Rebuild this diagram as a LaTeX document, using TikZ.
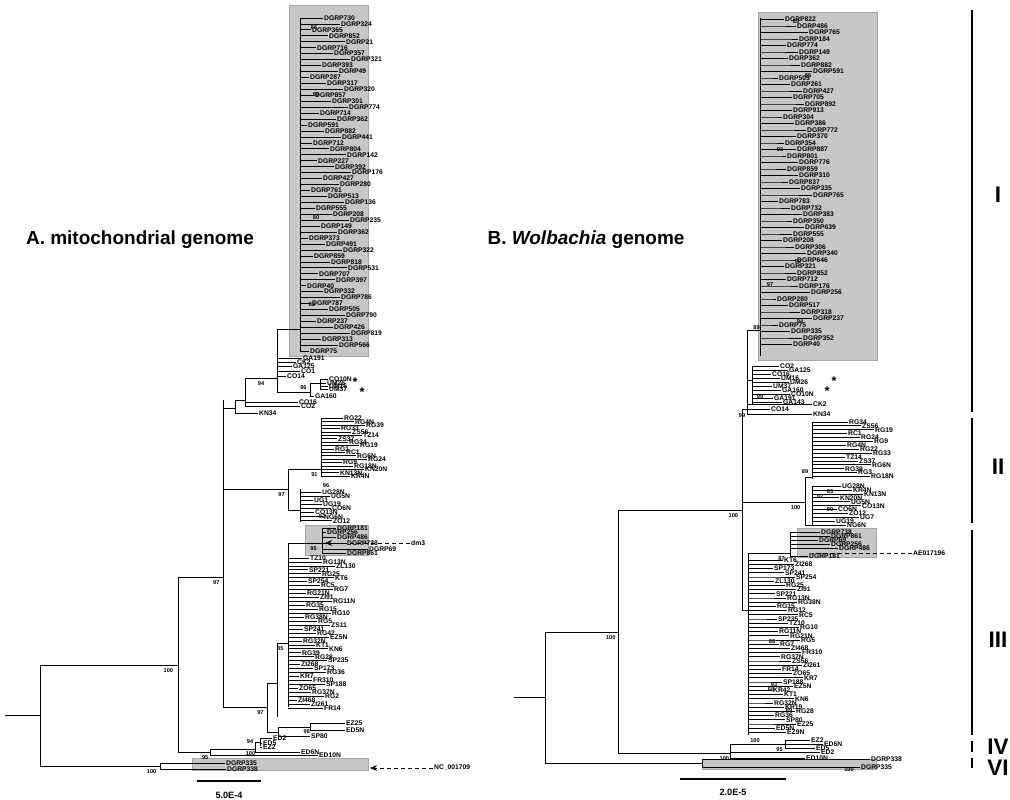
\documentclass[tikz,border=0pt]{standalone}
\usepackage{fontspec}
\setmainfont{Liberation Sans}
\usetikzlibrary{arrows.meta}
\tikzset{br/.style={line width=0.5pt},
	leaf/.style={right,inner sep=0.6pt,font=\fontsize{4.8}{5}\selectfont\bfseries},
	boot/.style={inner sep=0pt,font=\fontsize{4}{4.5}\selectfont\bfseries},
	box/.style={fill=black!22,draw=black!35,line width=0.3pt},
	title/.style={font=\fontsize{13.5}{15}\selectfont\bfseries},
	clade/.style={font=\fontsize{16}{18}\selectfont\bfseries},
	ptr/.style={densely dashed,line width=0.4pt,-{Stealth[length=5pt,width=4pt]}}
}
\begin{document}
\begin{tikzpicture}[x=0.025cm,y=-0.025cm]
	\useasboundingbox (0,0) rectangle (1010,800);
	% shaded groups
	\fill[box] (289,5) rectangle (368,356);
	\fill[box] (305,525) rectangle (368,555);
	\fill[box] (192,758) rectangle (368,770);
	\fill[box] (758,12) rectangle (877,360);
	\fill[box] (797,528) rectangle (876,557);
	\fill[box] (702,759) rectangle (876,769);
	
	% titles
	\node[title] (titleA) at (140,240) {A. mitochondrial genome};
	\node[title] (titleB) at (586,240) {B. \textit{Wolbachia} genome};
	
	%%%%%%%%%%%%%%%% tree A %%%%%%%%%%%%%%%%
	\coordinate (aroot) at (40,715);
	\draw[br] (5,715) -- (aroot);
	\draw[br] (40,665) -- (40,766);
	\draw[br] (40,665) -- (178,665) node[boot,pos=0.93,below=2pt]{100};
	\draw[br] (40,766) -- (160,766) node[boot,pos=0.93,below=2pt]{100};
	\draw[br] (160,763) -- (160,769);
	\draw[br] (160,763) -- (225,763) node[leaf]{DGRP335};
	\draw[br] (160,769) -- (226,769) node[leaf]{DGRP338};
	\node[leaf] (nc) at (433,768) {NC\_001709};
	\draw[ptr] (nc.west) -- (370,768);
	% ED group
	\draw[br] (178,752) -- (210,752) node[boot,pos=0.85,below=2pt]{95};
	\draw[br] (210,749) -- (210,755);
	\draw[br] (210,749) -- (255,749) node[boot,pos=0.9,below=1.5pt]{100};
	\draw[br] (255,742) -- (255,752);
	\draw[br] (255,742) -- (260,742) node[boot,pos=0,left=1pt]{94};
	\draw[br] (260,738) -- (260,746);
	\foreach \yy/\xe/\lab in {738/272/ED2,743/262/ED5,747/262/EZ2}
		\draw[br] (260,\yy) -- (\xe,\yy) node[leaf]{\lab};
	\draw[br] (255,752) -- (300,752) node[leaf]{ED6N};
	\draw[br] (210,755) -- (318,755) node[leaf]{ED10N};
	% backbone
	\draw[br] (178,577) -- (178,752);
	\draw[br] (178,577) -- (223,577) node[boot,pos=0.85,below=2pt]{97};
	\draw[br] (223,400) -- (223,707);
	% clade III
	\draw[br] (223,707) -- (267,707) node[boot,pos=0.85,below=2pt]{97};
	\draw[br] (267,683) -- (267,732);
	\draw[br] (267,683) -- (277,683);
	\draw[br] (277,643) -- (277,717);
	\draw[br] (277,643) -- (288,643) node[boot,pos=0.3,below=2pt]{85};
	\draw[br] (288,543) -- (288,707);
	\foreach \lab [count=\i] in {TZ10,RG13N,ZL130,SP221,RG25,KT6,SP254,RC5,RG7,RG21N,ZI91,RG11N,RG35,RG15,RG10,RG38N,RG5,ZS11,SP241,RG42,EZ5N,RG32N,KT1,KN6,RG39,RG28,SP235,ZI268,SP173,RG36,KR7,FR310,SP188,ZO65,RG37N,RG2,ZI468,ZI261,FR14}
	{\pgfmathsetmacro\yy{554+\i*3.95}
	 \pgfmathsetmacro\xe{296+mod(\i*13,40)}
	 \draw[br] (288,\yy) -- (\xe,\yy) node[leaf]{\lab};}
	\draw[br] (267,732) -- (278,732);
	\draw[br] (278,727) -- (278,736);
	\draw[br] (278,727) -- (310,727) node[boot,pos=0.9,below=1.5pt]{98};
	\draw[br] (310,723) -- (310,730);
	\draw[br] (310,723) -- (345,723) node[leaf]{EZ25};
	\draw[br] (310,730) -- (345,730) node[leaf]{ED5N};
	\draw[br] (278,736) -- (310,736) node[leaf]{SP80};
	% dm3 group
	\draw[br] (288,543) -- (322,543) node[boot,pos=0.75,below=2pt]{95};
	\draw[br] (322,528) -- (322,553);
	\foreach \yy/\xe/\lab in {528/336/DGRP181,532/326/DGRP256,537/336/DGRP486,543/346/DGRP738,549/368/DGRP69,553/346/DGRP861}
		\draw[br] (322,\yy) -- (\xe,\yy) node[leaf]{\lab};
	\node[leaf] (dm3) at (410,543) {dm3};
	\draw[ptr] (dm3.west) -- (325,543);
	% clade II
	\draw[br] (223,489) -- (288,489) node[boot,pos=0.9,below=2pt]{97};
	\draw[br] (288,469) -- (288,510);
	\draw[br] (288,469) -- (321,469) node[boot,pos=0.8,below=2pt]{91};
	\draw[br] (321,419) -- (321,476);
	\foreach \lab [count=\i] in {RG22,RG4N,RG39,RG33,ZS56,TZ14,ZS37,RG34,RG19,RG1,RC1,RG6N,RG24,RG9,RG18N,KN20N,KN13N,KR4N}
	{\pgfmathsetmacro\yy{415+\i*3.4}
	 \pgfmathsetmacro\xe{332+mod(\i*11,36)}
	 \draw[br] (321,\yy) -- (\xe,\yy) node[leaf]{\lab};}
	\draw[br] (288,510) -- (300,510);
	\draw[br] (300,489) -- (300,522);
	\foreach \lab [count=\i] in {UG28N,UG5N,UG1,UG19,CO6N,CO13N,NG6N,ZO12}
	{\pgfmathsetmacro\yy{488+\i*4.1}
	 \pgfmathsetmacro\xe{312+mod(\i*9,26)}
	 \draw[br] (300,\yy) -- (\xe,\yy) node[leaf]{\lab};}
	\node[boot] at (322,517) {92};
	\node[boot] at (326,486) {96};
	% clade I and its neighbours
	\draw[br] (223,408) -- (235,408);
	\draw[br] (235,400) -- (235,413);
	\draw[br] (235,413) -- (258,413) node[leaf]{KN34};
	\draw[br] (235,400) -- (245,400);
	\draw[br] (245,378) -- (245,406);
	\draw[br] (245,402) -- (298,402) node[leaf]{CO16};
	\draw[br] (245,406) -- (300,406) node[leaf]{CO2};
	\draw[br] (245,378) -- (277,378) node[boot,pos=0.5,below=2pt]{94};
	\draw[br] (277,329) -- (277,392);
	\foreach \yy/\xe/\lab in {358/302/GA191,362/296/CK2,366/292/GA125,371/300/CO1,376/286/CO14}
		\draw[br] (277,\yy) -- (\xe,\yy) node[leaf]{\lab};
	\draw[br] (277,392) -- (310,392) node[boot,pos=0.8,above=1.5pt]{96};
	\draw[br] (310,383) -- (310,396);
	\draw[br] (310,383) -- (320,383);
	\draw[br] (320,379) -- (320,389);
	\foreach \yy/\xe/\lab in {379/328/CO10N,383/326/UM26,386/328/UM16,389/328/UM37}
		\draw[br] (320,\yy) -- (\xe,\yy) node[leaf]{\lab};
	\draw[br] (310,396) -- (314,396) node[leaf]{GA160};
	\draw[br] (300,399) -- (300,399);
	\node[font=\small\bfseries] at (355,382) {*};
	\node[font=\small\bfseries] at (362,392) {*};
	\draw[br] (277,329) -- (300,329);
	\draw[br] (300,18) -- (300,352);
	\foreach \lab [count=\i] in {DGRP730,DGRP324,DGRP365,DGRP852,DGRP21,DGRP716,DGRP357,DGRP321,DGRP393,DGRP49,DGRP287,DGRP317,DGRP320,DGRP857,DGRP301,DGRP774,DGRP714,DGRP362,DGRP591,DGRP882,DGRP441,DGRP712,DGRP804,DGRP142,DGRP227,DGRP392,DGRP176,DGRP427,DGRP280,DGRP761,DGRP513,DGRP136,DGRP555,DGRP208,DGRP235,DGRP149,DGRP362,DGRP373,DGRP491,DGRP322,DGRP859,DGRP818,DGRP531,DGRP707,DGRP397,DGRP40,DGRP332,DGRP786,DGRP787,DGRP505,DGRP790,DGRP237,DGRP426,DGRP819,DGRP313,DGRP566,DGRP75}
	{\pgfmathsetmacro\yy{12+\i*5.95}
	 \pgfmathsetmacro\xe{306+mod(\i*17,46)}
	 \draw[br] (300,\yy) -- (\xe,\yy) node[leaf]{\lab};}
	\node[boot] at (316,95) {99};
	\node[boot] at (312,305) {82};
	\node[boot] at (316,218) {80};
	\node[boot] at (314,28) {66};
	% scale A
	\draw[line width=1.5pt] (197,781) -- (261,781);
	\node[font=\fontsize{6.5}{7}\selectfont\bfseries] at (229,795) {5.0E-4};
	
	%%%%%%%%%%%%%%%% tree B %%%%%%%%%%%%%%%%
	\coordinate (broot) at (545,697);
	\draw[br] (514,697) -- (broot);
	\draw[br] (545,632) -- (545,763);
	\draw[br] (545,632) -- (618,632) node[boot,pos=0.9,below=2pt]{100};
	\draw[br] (545,763) -- (702,763);
	\draw[br] (702,759) -- (702,767);
	\draw[br] (702,759) -- (870,759) node[leaf]{DGRP338};
	\draw[br] (702,767) -- (860,767) node[boot,pos=0.93,below=0pt]{100} node[leaf]{DGRP335};
	\draw[br] (618,510) -- (618,753);
	% clade IV
	\draw[br] (618,753) -- (730,753) node[boot,pos=0.95,below=2pt]{100};
	\draw[br] (730,744) -- (730,758);
	\draw[br] (730,744) -- (785,744) node[boot,pos=0.9,below=2pt]{95};
	\draw[br] (785,740) -- (785,748);
	\foreach \yy/\xe/\lab in {740/810/EZ2,744/823/ED6N,748/815/ED5}
		\draw[br] (785,\yy) -- (\xe,\yy) node[leaf]{\lab};
	\draw[br] (730,752) -- (820,752) node[leaf]{ED2};
	\draw[br] (730,758) -- (805,758) node[leaf]{ED10N};
	% backbone
	\draw[br] (618,510) -- (742,510) node[boot,pos=0.93,below=2pt]{100};
	\draw[br] (742,409) -- (742,610);
	% clade III
	\draw[br] (742,610) -- (748,610);
	\draw[br] (748,553) -- (748,735);
	\draw[br] (748,553) -- (790,553) node[boot,pos=0.8,below=2pt]{87};
	\draw[br] (790,532) -- (790,556);
	\foreach \yy/\xe/\lab in {532/820/DGRP738,536/830/DGRP861,540/818/DGRP69,544/830/DGRP256,548/838/DGRP486,556/808/DGRP181}
		\draw[br] (790,\yy) -- (\xe,\yy) node[leaf]{\lab};
	\node[leaf] (ae) at (912,553) {AE017196};
	\draw[densely dashed,line width=0.4pt] (ae.west) -- (812,553);
	\foreach \lab [count=\i] in {KT6,ZI268,SP173,SP241,SP254,ZL130,RG25,ZI91,SP221,RG13N,RG38N,RG15,RG12,RC5,SP235,TZ10,RG10,RG11N,RG21N,RG5,RG7,ZI468,FR310,RG37N,ZS56,ZI261,FR14,ZO65,KR7,SP188,EZ5N,KR42,KT1,KN6,RG32N,KR19,RG28,RG36,SP80,EZ25,ED5N,EZ9N}
	{\pgfmathsetmacro\yy{556+\i*4.2}
	 \pgfmathsetmacro\xe{772+mod(\i*11,32)}
	 \pgfmathsetmacro\xb{752+mod(\i*7,20)}
	 \draw[br] (748,\yy) -- (\xb,\yy) -- (\xe,\yy) node[leaf]{\lab};}
	\node[boot] at (772,642) {88};
	\node[boot] at (771,690) {88};
	\node[boot] at (774,685) {93};
	\node[boot] at (789,711) {89};
	\node[boot] at (755,741) {100};
	% clade II
	\draw[br] (742,502) -- (805,502) node[boot,pos=0.85,below=2pt]{100};
	\draw[br] (805,477) -- (805,525);
	\draw[br] (805,477) -- (812,477) node[boot,pos=0,above=2pt]{89};
	\foreach \lab [count=\i] in {RG34,ZS56,RG19,RC1,RG24,RG9,RG4N,RG22,RG33,TZ14,ZS37,RG6N,RG39,RG3,RG18N}
	{\pgfmathsetmacro\yy{418+\i*3.9}
	 \pgfmathsetmacro\xe{835+mod(\i*13,40)}
	 \draw[br] (812,\yy) -- (\xe,\yy) node[leaf]{\lab};}
	\draw[br] (812,422) -- (812,479);
	\foreach \lab [count=\i] in {UG28N,KR4N,KN13N,KN20N,UG5N,CO13N,CO6N,ZO12,UG7,UG19,NG6N}
	{\pgfmathsetmacro\yy{482+\i*3.95}
	 \pgfmathsetmacro\xe{830+mod(\i*11,35)}
	 \draw[br] (812,\yy) -- (\xe,\yy) node[leaf]{\lab};}
	\draw[br] (812,486) -- (812,525);
	\draw[br] (805,525) -- (812,525);
	\node[boot] at (820,497) {92};
	\node[boot] at (830,492) {83};
	\node[boot] at (830,510) {99};
	% clade I
	\draw[br] (742,409) -- (747,409) node[boot,pos=0,below=3pt]{99};
	\draw[br] (747,330) -- (747,414);
	\draw[br] (747,414) -- (812,414) node[leaf]{KN34};
	\draw[br] (747,409) -- (770,409) node[leaf]{CO14};
	\draw[br] (747,404) -- (812,404) node[leaf]{CK2};
	\foreach \lab [count=\i] in {CO2,GA125,CO16,UM16,UM26,UM37,GA160,CO10N,GA191,GA143}
	{\pgfmathsetmacro\yy{362+\i*4}
	 \pgfmathsetmacro\xe{770+mod(\i*9,26)}
	 \draw[br] (752,\yy) -- (\xe,\yy) node[leaf]{\lab};}
	\draw[br] (752,366) -- (752,404);
	\draw[br] (747,380) -- (752,380);
	\node[boot] at (760,397) {99};
	\node[font=\small\bfseries] at (834,381) {*};
	\node[font=\small\bfseries] at (827,391) {*};
	\draw[br] (747,330) -- (760,330) node[boot,pos=1,above left=0pt]{89};
	\draw[br] (760,18) -- (760,356);
	\foreach \lab [count=\i] in {DGRP822,DGRP486,DGRP765,DGRP184,DGRP774,DGRP149,DGRP362,DGRP882,DGRP591,DGRP505,DGRP261,DGRP427,DGRP705,DGRP892,DGRP913,DGRP304,DGRP386,DGRP772,DGRP370,DGRP354,DGRP887,DGRP801,DGRP776,DGRP859,DGRP310,DGRP837,DGRP335,DGRP765,DGRP783,DGRP732,DGRP383,DGRP350,DGRP639,DGRP555,DGRP208,DGRP306,DGRP340,DGRP646,DGRP321,DGRP852,DGRP712,DGRP176,DGRP256,DGRP280,DGRP517,DGRP318,DGRP237,DGRP75,DGRP335,DGRP352,DGRP40}
	{\pgfmathsetmacro\yy{13+\i*6.5}
	 \pgfmathsetmacro\xb{766+mod(\i*5,24)}
	 \pgfmathsetmacro\xe{\xb+6+mod(\i*7,22)}
	 \draw[br] (760,\yy) -- (\xb,\yy) -- (\xe,\yy) node[leaf]{\lab};}
	\node[boot] at (796,22) {89};
	\node[boot] at (808,76) {85};
	\node[boot] at (780,150) {93};
	\node[boot] at (770,285) {97};
	\node[boot] at (798,262) {99};
	\node[boot] at (800,322) {94};
	% scale B
	\draw[line width=1.5pt] (680,779) -- (786,779);
	\node[font=\fontsize{6.5}{7}\selectfont\bfseries] at (733,792) {2.0E-5};
	
	% clade bars
	\foreach \ya/\yb/\lab/\yl in {10/412/I/195,418/523/II/467,530/735/III/640,741/752/IV/747,758/768/VI/768}
	{\draw[line width=0.9pt] (972,\ya) -- (972,\yb);
	 \node[clade] at (998,\yl) {\lab};}
\end{tikzpicture}
\end{document}
